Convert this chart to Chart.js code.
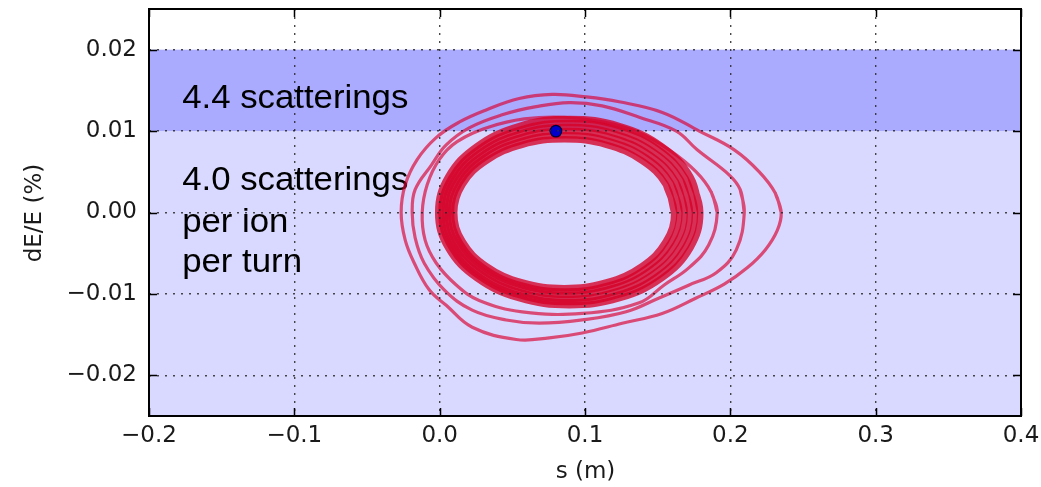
<!DOCTYPE html>
<html><head><meta charset="utf-8">
<script src="https://cdn.jsdelivr.net/npm/chart.js@4.4.0/dist/chart.umd.min.js"></script>
<style>html,body{margin:0;padding:0;background:#fff}#wrap{width:1041px;height:487px;position:relative}</style>
</head><body><div id="wrap"><canvas id="c"></canvas></div>
<script>
// ---- data ----
const xTicks = [-0.2, -0.1, 0.0, 0.1, 0.2, 0.3, 0.4];
const yTicks = [-0.02, -0.01, 0.0, 0.01, 0.02];
const xRange = [-0.2, 0.4];
const yRange = [-0.025, 0.025];
const spanHigh = [0.01, 0.02];
const spanLow = [-0.025, 0.01];
const noteLines = ['4.4 scatterings', '4.0 scatterings', 'per ion', 'per turn'];
const xTitle = 's (m)';
const yTitle = 'dE/E (%)';
const marker = [[0.08, 0.01]];

// dense inner band of turns
const band1 = [[0.1614,0],[0.1556,0.00345],[0.1392,0.00636],[0.1147,0.00832],[0.0857,0.0090],[0.0567,0.00832],[0.0322,0.00636],[0.0158,0.00345],[0.0100,0],[0.0158,-0.00356],[0.0322,-0.00658],[0.0567,-0.00859],[0.0857,-0.0093],[0.1147,-0.00859],[0.1392,-0.00658],[0.1556,-0.00356]];
const band2 = [[0.1650,0],[0.1590,0.00364],[0.1420,0.00672],[0.1165,0.00878],[0.0864,0.0095],[0.0563,0.00878],[0.0308,0.00672],[0.0138,0.00364],[0.0078,0],[0.0138,-0.00372],[0.0308,-0.00686],[0.0563,-0.00896],[0.0864,-0.0097],[0.1165,-0.00896],[0.1420,-0.00686],[0.1590,-0.00372]];
const band3 = [[0.1686,0],[0.1624,0.00383],[0.1447,0.00707],[0.1183,0.00924],[0.0871,0.0100],[0.0559,0.00924],[0.0295,0.00707],[0.0118,0.00383],[0.0056,0],[0.0118,-0.00387],[0.0295,-0.00714],[0.0559,-0.00933],[0.0871,-0.0101],[0.1183,-0.00933],[0.1447,-0.00714],[0.1624,-0.00387]];
const band4 = [[0.1722,0],[0.1658,0.00402],[0.1475,0.00742],[0.1201,0.00970],[0.0878,0.0105],[0.0555,0.00970],[0.0281,0.00742],[0.0098,0.00402],[0.0034,0],[0.0098,-0.00406],[0.0281,-0.00749],[0.0555,-0.00979],[0.0878,-0.0106],[0.1201,-0.00979],[0.1475,-0.00749],[0.1658,-0.00406]];
const band5 = [[0.1757,0],[0.1691,0.00421],[0.1502,0.00778],[0.1219,0.01016],[0.0885,0.0110],[0.0551,0.01016],[0.0268,0.00778],[0.0079,0.00421],[0.0012,0],[0.0079,-0.00421],[0.0268,-0.00778],[0.0551,-0.01016],[0.0885,-0.0110],[0.1219,-0.01016],[0.1502,-0.00778],[0.1691,-0.00421]];
const band6 = [[0.1793,0],[0.1725,0.00440],[0.1529,0.00813],[0.1237,0.01062],[0.0892,0.0115],[0.0547,0.01062],[0.0255,0.00813],[0.0059,0.00440],[-0.0010,0],[0.0059,-0.00437],[0.0255,-0.00806],[0.0547,-0.01053],[0.0892,-0.0114],[0.1237,-0.01053],[0.1529,-0.00806],[0.1725,-0.00437]];

// outer, irregular turns
const turn1 = [[0.1910,0],[0.1869,0.0025],[0.1765,0.0050],[0.1579,0.0077],[0.1373,0.0098],[0.1132,0.0111],[0.0857,0.0117],[0.0582,0.0115],[0.0341,0.0105],[0.0120,0.0087],[-0.0003,0.0065],[-0.0086,0.0034],[-0.0120,0],[-0.0100,-0.0034],[-0.0024,-0.0062],[0.0114,-0.0089],[0.0272,-0.0108],[0.0568,-0.0122],[0.0981,-0.0124],[0.1373,-0.0111],[0.1545,-0.0089],[0.1714,-0.0068],[0.1851,-0.0040]];
const turn2 = [[0.2096,0],[0.2068,0.0028],[0.1993,0.0046],[0.1772,0.0077],[0.1628,0.0100],[0.1373,0.0117],[0.1118,0.0131],[0.0891,0.0135],[0.0664,0.0130],[0.0430,0.0120],[0.0203,0.0104],[0.0045,0.0083],[-0.0058,0.0058],[-0.0169,0.0028],[-0.0189,0],[-0.0169,-0.0031],[-0.0107,-0.0062],[0.0031,-0.0095],[0.0224,-0.0120],[0.0458,-0.0132],[0.0685,-0.0136],[0.0981,-0.0132],[0.1283,-0.0122],[0.1510,-0.0105],[0.1717,-0.0089],[0.1903,-0.0074],[0.2041,-0.0046]];
const turn3 = [[0.2350,0],[0.2309,0.0024],[0.2199,0.0050],[0.2027,0.0077],[0.1786,0.0100],[0.1532,0.0123],[0.1235,0.0136],[0.1008,0.0142],[0.0774,0.0145],[0.0547,0.0140],[0.0320,0.0126],[0.0134,0.0111],[-0.0024,0.0092],[-0.0155,0.0065],[-0.0237,0.0034],[-0.0265,0],[-0.0237,-0.0034],[-0.0175,-0.0062],[-0.0072,-0.0095],[0.0045,-0.0114],[0.0224,-0.0141],[0.0527,-0.0156],[0.0754,-0.0154],[0.0981,-0.0148],[0.1256,-0.0136],[0.1531,-0.0124],[0.1765,-0.0105],[0.1958,-0.0088],[0.2116,-0.0068],[0.2240,-0.0046],[0.2323,-0.0022]];

// ---- build ----
const toPts = a => a.map(p => ({x: p[0], y: p[1]}));
// repeat the first two points so the closing joint is smooth
const closed = a => toPts(a.concat([a[0], a[1]]));
const fmt = (v, d) => (Math.abs(v) < 1e-12 ? (0).toFixed(d) : v.toFixed(d)).replace('-', '\u2212');

const bandStyle = {showLine: true, borderColor: 'rgba(214,0,38,0.78)', borderWidth: 6.5, tension: 0.4, pointRadius: 0, order: 2};
const turnStyle = {showLine: true, borderColor: 'rgba(218,0,48,0.66)', borderWidth: 3.2, tension: 0.4, pointRadius: 0, order: 2};

const datasets = [
  {data: toPts(marker), showLine: false, pointRadius: 5.8, pointBackgroundColor: '#0000cc', pointBorderColor: '#00003a', pointBorderWidth: 1.2, order: 0},
  ...[band1, band2, band3, band4, band5, band6].map(a => Object.assign({data: closed(a)}, bandStyle)),
  ...[turn1, turn2, turn3].map(a => Object.assign({data: closed(a)}, turnStyle))
];

const deco = {
  id: 'deco',
  beforeDatasetsDraw(chart) {
    const {ctx, chartArea: ca, scales: {x, y}} = chart;
    ctx.save();
    ctx.fillStyle = 'rgb(217,217,255)';
    let t = y.getPixelForValue(spanLow[1]), b = y.getPixelForValue(spanLow[0]);
    ctx.fillRect(ca.left, t, ca.right - ca.left, b - t);
    ctx.fillStyle = 'rgb(170,170,255)';
    t = y.getPixelForValue(spanHigh[1]); b = y.getPixelForValue(spanHigh[0]);
    ctx.fillRect(ca.left, t, ca.right - ca.left, b - t);
    // notes
    ctx.fillStyle = '#000';
    ctx.font = '32.5px "Liberation Sans", Arial, sans-serif';
    ctx.textBaseline = 'alphabetic';
    ctx.textAlign = 'left';
    const nx = x.getPixelForValue(-0.1772);
    const ny = [0.01285, 0.00277, -0.0024, -0.00732];
    noteLines.forEach((s, i) => {
      ctx.save();
      ctx.translate(nx, y.getPixelForValue(ny[i]));
      ctx.scale(1.07, 1);
      ctx.fillText(s, 0, 0);
      ctx.restore();
    });
    ctx.restore();
  },
  afterDraw(chart) {
    const {ctx, chartArea: ca, scales: {x, y}} = chart;
    ctx.save();
    ctx.strokeStyle = '#000';
    ctx.lineWidth = 1.5;
    const L = 8;
    ctx.beginPath();
    xTicks.forEach(v => {
      const px = Math.round(x.getPixelForValue(v)) + 0.5;
      ctx.moveTo(px, ca.bottom); ctx.lineTo(px, ca.bottom - L);
      ctx.moveTo(px, ca.top); ctx.lineTo(px, ca.top + L);
    });
    yTicks.forEach(v => {
      const py = Math.round(y.getPixelForValue(v)) + 0.5;
      ctx.moveTo(ca.left, py); ctx.lineTo(ca.left + L, py);
      ctx.moveTo(ca.right, py); ctx.lineTo(ca.right - L, py);
    });
    ctx.stroke();
    ctx.lineWidth = 2;
    ctx.strokeRect(ca.left, ca.top, ca.right - ca.left, ca.bottom - ca.top);
    // axis titles
    ctx.fillStyle = '#1a1a1a';
    ctx.font = '23px "DejaVu Sans", sans-serif';
    ctx.textAlign = 'center';
    ctx.textBaseline = 'middle';
    ctx.fillText(xTitle, (ca.left + ca.right) / 2 + 0.5, 472);
    ctx.save();
    ctx.translate(35, 213);
    ctx.rotate(-Math.PI / 2);
    ctx.fillText(yTitle, 0, 0);
    ctx.restore();
    ctx.restore();
  }
};

const tickFont = {family: '"DejaVu Sans", sans-serif', size: 23};
const noPad = s => { s.paddingTop = 0; s.paddingBottom = 0; s.paddingLeft = 0; s.paddingRight = 0; };
const gridOpts = {color: 'rgba(40,40,40,0.85)', lineWidth: 1.4, drawTicks: false, z: 1};
const borderOpts = {display: false, dash: [2, 6]};
new Chart(document.getElementById('c'), {
  type: 'scatter',
  data: {datasets},
  options: {
    responsive: true, maintainAspectRatio: false, animation: false,
    layout: {padding: {top: 9, right: 20, left: 0, bottom: 0}},
    plugins: {legend: {display: false}, tooltip: {enabled: false}},
    scales: {
      x: {
        type: 'linear', min: xRange[0], max: xRange[1],
        afterBuildTicks: s => { s.ticks = xTicks.map(v => ({value: v})); },
        afterFit: s => { s.height = 71; noPad(s); },
        grid: gridOpts,
        border: borderOpts,
        ticks: {font: tickFont, color: '#1a1a1a', padding: 6, maxRotation: 0, autoSkip: false, callback: v => fmt(v, 1)}
      },
      y: {
        type: 'linear', min: yRange[0], max: yRange[1],
        afterBuildTicks: s => { s.ticks = yTicks.map(v => ({value: v})); },
        afterFit: s => { s.width = 149; noPad(s); },
        grid: gridOpts,
        border: borderOpts,
        ticks: {font: tickFont, color: '#1a1a1a', padding: 12, autoSkip: false, callback: v => fmt(v, 2)}
      }
    }
  },
  plugins: [deco]
});
</script>
</body></html>
